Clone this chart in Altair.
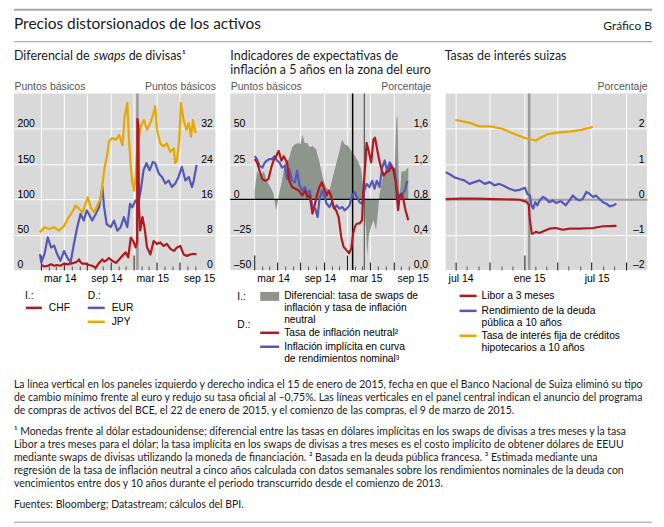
import altair as alt
import pandas as pd

# ================= DATA =================
# Left panel - left axis (basis points): CHF
chf = [
    ("2014-01-02", 7), ("2014-01-14", 5), ("2014-01-27", 6), ("2014-02-09", 8),
    ("2014-02-21", 6), ("2014-03-05", 7), ("2014-03-18", 6), ("2014-04-01", 9),
    ("2014-04-14", 8), ("2014-04-27", 9), ("2014-05-10", 10), ("2014-05-23", 12),
    ("2014-05-30", 15), ("2014-06-05", 11), ("2014-06-12", 9), ("2014-06-25", 9),
    ("2014-07-08", 7), ("2014-07-21", 6), ("2014-08-04", 3), ("2014-08-17", 10),
    ("2014-08-30", 15), ("2014-09-06", 12), ("2014-09-12", 13), ("2014-09-25", 17),
    ("2014-10-08", 13), ("2014-10-22", 10), ("2014-11-04", 15), ("2014-11-17", 20),
    ("2014-11-30", 25), ("2014-12-10", 18), ("2014-12-20", 46), ("2014-12-30", 41),
    ("2015-01-08", 32), ("2015-01-14", 40), ("2015-01-15", 214), ("2015-01-19", 205),
    ("2015-01-21", 90), ("2015-01-26", 56), ("2015-02-04", 75), ("2015-02-12", 60),
    ("2015-02-22", 32), ("2015-03-07", 22), ("2015-03-20", 41), ("2015-04-02", 37),
    ("2015-04-15", 39), ("2015-04-28", 34), ("2015-05-11", 37), ("2015-05-25", 30),
    ("2015-06-07", 27), ("2015-06-20", 32), ("2015-07-03", 34), ("2015-07-16", 22),
    ("2015-07-29", 20), ("2015-08-11", 22), ("2015-08-25", 23), ("2015-09-05", 22),
]
# Left panel - right axis (basis points): EUR, JPY
eur = [
    ("2013-12-27", 3.6), ("2014-01-02", 1.7), ("2014-01-14", 3.6), ("2014-01-27", 7.4),
    ("2014-02-09", 5.1), ("2014-02-21", 5.5), ("2014-03-05", 3.6), ("2014-03-18", 2.1),
    ("2014-04-01", 4.3), ("2014-04-14", 2.8), ("2014-04-27", 1.7), ("2014-05-10", 5.9),
    ("2014-05-23", 9.7), ("2014-06-05", 12.7), ("2014-06-18", 11.2), ("2014-06-29", 13.5),
    ("2014-07-08", 12.7), ("2014-07-21", 11.2), ("2014-08-04", 12.7), ("2014-08-17", 14.2),
    ("2014-08-30", 18.8), ("2014-09-06", 14.2), ("2014-09-16", 10.4), ("2014-10-02", 9.7),
    ("2014-10-15", 11.2), ("2014-10-28", 8.9), ("2014-11-10", 9.7), ("2014-11-23", 12.0),
    ("2014-12-06", 9.7), ("2014-12-17", 15.0), ("2014-12-26", 14.2), ("2015-01-08", 15.8),
    ("2015-01-18", 15.0), ("2015-01-28", 18.0), ("2015-02-08", 22.6), ("2015-02-20", 24.2),
    ("2015-03-04", 22.6), ("2015-03-17", 24.5), ("2015-03-26", 24.2), ("2015-04-09", 21.9),
    ("2015-04-22", 21.1), ("2015-05-05", 19.6), ("2015-05-18", 20.3), ("2015-05-31", 18.8),
    ("2015-06-13", 19.6), ("2015-06-26", 21.1), ("2015-07-09", 23.4), ("2015-07-23", 20.3),
    ("2015-08-05", 21.1), ("2015-08-18", 18.8), ("2015-08-25", 20.3), ("2015-09-05", 23.8),
]
jpy = [
    ("2013-12-27", 8.5), ("2014-01-14", 9.7), ("2014-02-03", 9.3), ("2014-02-21", 9.7),
    ("2014-03-12", 8.9), ("2014-04-01", 10.0), ("2014-04-20", 12.0), ("2014-05-03", 13.1),
    ("2014-05-17", 14.6), ("2014-05-30", 13.9), ("2014-06-12", 13.0), ("2014-06-25", 15.0),
    ("2014-07-04", 16.5), ("2014-07-15", 14.2), ("2014-07-28", 13.1), ("2014-08-10", 14.6),
    ("2014-08-24", 16.2), ("2014-09-06", 22.6), ("2014-09-19", 26.4), ("2014-09-25", 29.1),
    ("2014-10-08", 29.9), ("2014-10-22", 29.5), ("2014-11-04", 30.6), ("2014-11-17", 28.3),
    ("2014-11-26", 34.8), ("2014-12-06", 37.9), ("2014-12-13", 29.5), ("2014-12-20", 23.4),
    ("2014-12-26", 19.6), ("2015-01-02", 18.0), ("2015-01-08", 21.1), ("2015-01-15", 28.0),
    ("2015-01-28", 32.5), ("2015-02-10", 34.0), ("2015-02-22", 31.8), ("2015-03-07", 33.3),
    ("2015-03-20", 35.6), ("2015-03-26", 37.1), ("2015-04-02", 31.8), ("2015-04-15", 28.7),
    ("2015-04-28", 28.0), ("2015-05-11", 28.7), ("2015-05-25", 26.8), ("2015-06-07", 27.6),
    ("2015-06-13", 24.2), ("2015-06-20", 24.9), ("2015-06-29", 29.5), ("2015-07-05", 37.9),
    ("2015-07-16", 34.0), ("2015-07-27", 31.8), ("2015-08-05", 33.3), ("2015-08-14", 30.2),
    ("2015-08-22", 34.0), ("2015-09-01", 31.0),
]
# Middle panel - left axis (basis points): swap-rate minus breakeven
diferencial = [
    ("2014-01-02", 6), ("2014-01-11", 20), ("2014-01-25", 17), ("2014-02-07", 20),
    ("2014-02-19", 13), ("2014-03-04", 9), ("2014-03-17", 4), ("2014-03-27", -8),
    ("2014-04-06", 2), ("2014-04-19", 13), ("2014-05-02", 27), ("2014-05-16", 28.5),
    ("2014-05-29", 36.7), ("2014-06-09", 39), ("2014-06-22", 40), ("2014-07-01", 39),
    ("2014-07-08", 46), ("2014-07-18", 40), ("2014-07-28", 40), ("2014-08-06", 36.7),
    ("2014-08-17", 38), ("2014-08-31", 35.5), ("2014-09-13", 27), ("2014-09-26", 15.7),
    ("2014-10-09", 8.6), ("2014-10-23", 6.3), ("2014-11-05", 15.7), ("2014-11-18", 25),
    ("2014-12-01", 34.3), ("2014-12-12", 42.5), ("2014-12-21", 39), ("2015-01-04", 38),
    ("2015-01-17", 34.3), ("2015-01-31", 30.8), ("2015-02-12", 27), ("2015-02-24", 21.5),
    ("2015-03-02", 13), ("2015-03-09", -5.4), ("2015-03-16", -21.7), ("2015-03-20", -40),
    ("2015-03-26", -26), ("2015-04-05", -19), ("2015-04-14", -14.7), ("2015-04-24", -21.7),
    ("2015-05-01", -10), ("2015-05-08", 4), ("2015-05-21", 15.7), ("2015-06-04", 22.7),
    ("2015-06-17", 27), ("2015-06-27", 25), ("2015-07-06", 20), ("2015-07-13", 57.5),
    ("2015-07-17", 59), ("2015-07-22", 18), ("2015-07-26", 1.6), ("2015-08-02", 20),
    ("2015-08-15", 20), ("2015-08-29", 22.7),
]
# Middle panel - right axis (percent)
neutral = [
    ("2014-01-02", 1.256), ("2014-01-11", 1.22), ("2014-01-21", 1.125), ("2014-02-01", 1.03),
    ("2014-02-13", 1.01), ("2014-02-25", 1.03), ("2014-03-08", 1.16), ("2014-03-17", 1.24),
    ("2014-03-27", 1.29), ("2014-04-06", 1.35), ("2014-04-17", 1.24), ("2014-04-26", 1.29),
    ("2014-05-09", 1.22), ("2014-05-18", 1.01), ("2014-05-29", 0.94), ("2014-06-11", 0.92),
    ("2014-06-24", 0.90), ("2014-07-08", 0.845), ("2014-07-18", 0.90), ("2014-07-28", 0.826),
    ("2014-08-06", 0.845), ("2014-08-17", 0.64), ("2014-08-24", 0.714), ("2014-09-02", 0.826),
    ("2014-09-13", 0.94), ("2014-09-23", 0.994), ("2014-10-02", 0.92), ("2014-10-12", 0.845),
    ("2014-10-20", 0.90), ("2014-10-29", 0.845), ("2014-11-08", 0.714), ("2014-11-18", 0.677),
    ("2014-11-28", 0.60), ("2014-12-08", 0.378), ("2014-12-17", 0.265), ("2014-12-28", 0.228),
    ("2015-01-08", 0.19), ("2015-01-17", 0.247), ("2015-01-24", 0.415), ("2015-01-31", 0.49),
    ("2015-02-08", 0.527), ("2015-02-18", 0.527), ("2015-02-28", 0.564), ("2015-03-05", 0.90),
    ("2015-03-13", 1.20), ("2015-03-18", 1.44), ("2015-03-26", 1.35), ("2015-04-05", 1.22),
    ("2015-04-14", 1.48), ("2015-04-20", 1.50), ("2015-04-27", 1.39), ("2015-05-05", 1.27),
    ("2015-05-14", 1.16), ("2015-05-24", 1.07), ("2015-06-04", 1.107), ("2015-06-14", 1.125),
    ("2015-06-23", 1.18), ("2015-07-02", 1.125), ("2015-07-10", 1.01), ("2015-07-20", 0.677),
    ("2015-07-26", 0.845), ("2015-08-02", 0.864), ("2015-08-09", 0.807), ("2015-08-18", 0.677),
    ("2015-08-29", 0.564),
]
implicita = [
    ("2014-01-02", 1.29), ("2014-01-11", 1.256), ("2014-01-21", 1.18), ("2014-02-01", 1.16),
    ("2014-02-11", 1.22), ("2014-02-19", 1.24), ("2014-02-28", 1.256), ("2014-03-10", 1.256),
    ("2014-03-21", 1.29), ("2014-03-31", 1.24), ("2014-04-09", 1.22), ("2014-04-19", 1.16),
    ("2014-04-30", 1.18), ("2014-05-09", 1.03), ("2014-05-18", 1.145), ("2014-05-29", 1.01),
    ("2014-06-09", 0.994), ("2014-06-18", 1.125), ("2014-06-27", 0.957), ("2014-07-08", 0.90),
    ("2014-07-18", 0.94), ("2014-07-28", 0.864), ("2014-08-06", 0.90), ("2014-08-17", 0.714),
    ("2014-08-28", 0.695), ("2014-09-06", 0.60), ("2014-09-13", 0.79), ("2014-09-23", 0.90),
    ("2014-10-02", 0.845), ("2014-10-12", 0.75), ("2014-10-23", 0.714), ("2014-11-02", 0.77),
    ("2014-11-11", 0.695), ("2014-11-20", 0.733), ("2014-12-01", 0.695), ("2014-12-12", 0.714),
    ("2014-12-21", 0.677), ("2014-12-30", 0.695), ("2015-01-10", 0.733), ("2015-01-20", 0.845),
    ("2015-01-31", 0.88), ("2015-02-08", 0.826), ("2015-02-18", 0.77), ("2015-02-28", 0.75),
    ("2015-03-09", 0.90), ("2015-03-18", 0.976), ("2015-03-29", 0.94), ("2015-04-09", 1.01),
    ("2015-04-18", 0.92), ("2015-04-27", 1.01), ("2015-05-08", 0.94), ("2015-05-18", 1.16),
    ("2015-05-28", 1.24), ("2015-06-06", 1.125), ("2015-06-17", 1.22), ("2015-06-27", 1.16),
    ("2015-07-06", 1.145), ("2015-07-16", 0.90), ("2015-07-26", 0.807), ("2015-08-06", 0.864),
    ("2015-08-15", 0.90), ("2015-08-25", 1.01),
]
# Right panel (percent)
libor = [
    ("2014-06-05", 0.01), ("2014-07-15", 0.02), ("2014-08-26", 0.02), ("2014-10-15", 0.01),
    ("2014-12-20", -0.01), ("2015-01-08", -0.07), ("2015-01-14", -0.15), ("2015-01-16", -0.5),
    ("2015-01-19", -0.75), ("2015-01-22", -0.97), ("2015-01-25", -0.97), ("2015-02-02", -0.92),
    ("2015-02-12", -0.95), ("2015-02-25", -0.89), ("2015-03-10", -0.83), ("2015-03-28", -0.81),
    ("2015-04-15", -0.86), ("2015-05-03", -0.83), ("2015-05-30", -0.83), ("2015-07-05", -0.81),
    ("2015-08-01", -0.76), ("2015-09-06", -0.75),
]
bono10 = [
    ("2014-06-05", 0.77), ("2014-06-15", 0.72), ("2014-06-28", 0.63), ("2014-07-12", 0.58),
    ("2014-07-25", 0.54), ("2014-08-08", 0.44), ("2014-08-21", 0.49), ("2014-09-04", 0.54),
    ("2014-09-18", 0.44), ("2014-10-01", 0.49), ("2014-10-14", 0.40), ("2014-10-27", 0.44),
    ("2014-11-10", 0.37), ("2014-11-23", 0.30), ("2014-12-07", 0.25), ("2014-12-20", 0.27),
    ("2015-01-04", 0.33), ("2015-01-10", 0.16), ("2015-01-17", 0.11), ("2015-01-21", -0.17),
    ("2015-01-26", -0.26), ("2015-01-31", -0.08), ("2015-02-06", -0.17), ("2015-02-12", -0.03),
    ("2015-02-21", 0.07), ("2015-03-01", 0.02), ("2015-03-10", -0.08), ("2015-03-19", -0.03),
    ("2015-03-28", -0.10), ("2015-04-10", -0.05), ("2015-04-23", -0.17), ("2015-05-03", -0.03),
    ("2015-05-12", 0.11), ("2015-05-21", 0.02), ("2015-05-30", -0.03), ("2015-06-08", 0.02),
    ("2015-06-17", 0.21), ("2015-06-26", 0.16), ("2015-07-05", 0.07), ("2015-07-13", 0.11),
    ("2015-07-22", 0.02), ("2015-08-01", -0.08), ("2015-08-10", -0.12), ("2015-08-19", -0.20),
    ("2015-08-28", -0.17), ("2015-09-06", -0.12),
]
hipoteca = [
    ("2014-07-01", 2.25), ("2014-07-21", 2.21), ("2014-08-12", 2.16), ("2014-09-03", 2.07),
    ("2014-10-01", 2.07), ("2014-11-02", 2.01), ("2014-12-03", 1.87), ("2015-01-04", 1.74),
    ("2015-02-02", 1.67), ("2015-02-17", 1.76), ("2015-03-06", 1.85), ("2015-04-05", 1.90),
    ("2015-05-03", 1.92), ("2015-06-04", 1.97), ("2015-07-05", 2.06),
]
# event dates (vertical lines)
snb_date = "2015-01-15"
ecb_announce = "2015-01-22"
ecb_start = "2015-03-09"

# axis tick values / labels
MONTHS_ES = ["ene", "feb", "mar", "abr", "may", "jun", "jul", "ago", "sep", "oct", "nov", "dic"]
xlabels_lm = [(2014, 3, 15), (2014, 9, 15), (2015, 3, 15), (2015, 9, 15)]
xlabels_r = [(2014, 7, 15), (2015, 1, 15), (2015, 7, 15)]
y1_left = [0, 50, 100, 150, 200]
y1_right = [0, 8, 16, 24, 32]
y2_left = [-50, -25, 0, 25, 50]
y2_right = [0.0, 0.4, 0.8, 1.2, 1.6]
y3_right = [-2, -1, 0, 1, 2]

# ================= STYLE =================
H = 177
W1, W2, W3 = 202, 201, 202
BG = "#d9d9d9"
RED = "#b0191e"
BLUE = "#5558b8"
YEL = "#e8a800"
AREA = "#8d958c"
INK = "#1a1a1a"
AX_FONT = "Liberation Sans"
TX_FONT = "Lato"
LW = 2.2


def dt(y, m, d):
    return alt.DateTime(year=y, month=m, date=d)


def months(y0, m0, y1, m1):
    out = []
    y, m = y0, m0
    while (y, m) <= (y1, m1):
        out.append(dt(y, m, 1))
        m += 1
        if m > 12:
            m, y = 1, y + 1
    return out


MONTH_JS = "[" + ",".join("'%s'" % s for s in MONTHS_ES) + "]"
X_LABEL_EXPR = MONTH_JS + "[month(datum.value)] + ' ' + timeFormat(datum.value, '%y')"
NEG_EXPR = "(datum.value < 0 ? '\u2013' : '') + format(abs(datum.value), 'd')"
DEC_EXPR = "replace(format(datum.value, '.1f'), '.', ',')"


def label_axis(vals):
    return alt.Axis(orient="bottom", values=[dt(*v) for v in vals], labelExpr=X_LABEL_EXPR,
                    ticks=False, domain=False, grid=False, title=None,
                    labelFont=AX_FONT, labelFontSize=10.5, labelColor="black",
                    labelBaseline="middle", labelPadding=8.5, labelFlush=False, labelOverlap=False)


TICK_SIZE = {"condition": [{"test": "month(datum.value) == 0", "value": 15},
                           {"test": "month(datum.value) % 3 == 0", "value": 8}], "value": 4}
TICK_COLOR = {"condition": {"test": "month(datum.value) % 3 == 0", "value": "#111111"}, "value": "#555555"}
GRID_OP = {"condition": {"test": "month(datum.value) % 3 == 0", "value": 1}, "value": 0}


def tick_axis(vals):
    return alt.Axis(orient="top", offset=-H, values=vals, labels=False, domain=False, title=None,
                    ticks=True, tickSize=TICK_SIZE, tickColor=TICK_COLOR, tickWidth=1,
                    grid=True, gridColor="white", gridOpacity=GRID_OP, gridWidth=1)


def y_axis(side, values, title, grid=True, expr=None, grid_color="white", grid_width=1):
    left = side == "left"
    kw = dict(orient=side, values=values, title=title, grid=grid, gridColor=grid_color,
              gridWidth=grid_width, ticks=False, tickSize=0, domain=False, offset=-3,
              labelPadding=0, labelAlign="left" if left else "right",
              labelBaseline="alphabetic", labelOffset=-2, labelFont=AX_FONT,
              labelFontSize=10.5, labelColor="black", labelFlush=False,
              labelOverlap=False, labelBound=False, titleAngle=0,
              titleAlign="left" if left else "right", titleBaseline="middle",
              titleX=-3 if left else 3, titleY=-7, titleFont=AX_FONT, titleFontSize=10.5,
              titleColor="#555555", titleFontWeight="normal", titlePadding=0)
    if expr:
        kw["labelExpr"] = expr
    return alt.Axis(**kw)


def frame(rows, name):
    return pd.DataFrame(rows, columns=["fecha", "valor"]).assign(serie=name)


def X(domain, axis):
    return alt.X("fecha:T", scale=alt.Scale(domain=domain), axis=axis)


def px_text(rows, size, font, align="left", style="normal", color=INK):
    df = pd.DataFrame(rows, columns=["px", "py", "t"])
    return alt.Chart(df).mark_text(font=font, fontSize=size, align=align, baseline="middle",
                                   fontStyle=style, color=color).encode(
        x=alt.X("px:Q", scale=None, axis=None), y=alt.Y("py:Q", scale=None, axis=None),
        text=alt.Text("t:N"))


def px_rules(rows, width):
    df = pd.DataFrame(rows, columns=["px", "px2", "py", "c"])
    return alt.Chart(df).mark_rule(strokeWidth=width).encode(
        x=alt.X("px:Q", scale=None, axis=None), x2="px2:Q",
        y=alt.Y("py:Q", scale=None, axis=None), color=alt.Color("c:N", scale=None))


VIEW = alt.ViewBackground(fill=BG, stroke=None)

# ================= PANEL 1 =================
dom1 = [dt(2013, 9, 16), dt(2015, 11, 18)]
p1_rule = alt.Chart(pd.DataFrame({"fecha": [snb_date]})).mark_rule(
    color="#9b9b9b", strokeWidth=2.5).encode(x=X(dom1, label_axis(xlabels_lm)))
p1_right = alt.Chart(pd.concat([frame(eur, "EUR"), frame(jpy, "JPY")])).mark_line(
    strokeWidth=LW, strokeJoin="round").encode(
    x=X(dom1, None),
    y=alt.Y("valor:Q", scale=alt.Scale(domain=[0, 40], nice=False, zero=False),
            axis=y_axis("right", y1_right, "Puntos básicos", grid=False)),
    color=alt.Color("serie:N", scale=alt.Scale(domain=["EUR", "JPY"], range=[BLUE, YEL]), legend=None),
    detail="serie:N")
p1_left = alt.Chart(frame(chf, "CHF")).mark_line(color=RED, strokeWidth=LW, strokeJoin="round").encode(
    x=X(dom1, tick_axis(months(2014, 1, 2015, 9))),
    y=alt.Y("valor:Q", scale=alt.Scale(domain=[0, 250], nice=False, zero=False),
            axis=y_axis("left", y1_left, "Puntos básicos", grid=True)))

# ---- page furniture (positions relative to panel-1 plot origin) ----
header_rules = px_rules([(0, 640, -84, "#a6a6a6")], 2)
header_rule2 = px_rules([(0, 640, -52, "#9a9a9a"), (0, 640, 430, "#9a9a9a")], 1)
title = px_text([(0, -70, "Precios distorsionados de los activos")], 15.5, TX_FONT)
grafico = px_text([(640, -68, "Gráfico B")], 12, TX_FONT, align="right")
ptitles = px_text([(0, -38, "Diferencial de"), (115, -38, "de divisas\u00b9"),
                   (217, -38, "Indicadores de expectativas de"),
                   (217, -24, "inflación a 5 años en la zona del euro"),
                   (432, -38, "Tasas de interés suizas")], 12.5, TX_FONT)
ptitle_it = px_text([(80, -38, "swaps")], 12.5, TX_FONT, style="italic")

legend_txt = px_text([
    (11, 203, "I.:"), (35, 215, "CHF"), (74, 203, "D.:"), (98, 215, "EUR"), (98, 229, "JPY"),
    (224, 204, "I.:"), (271, 203, "Diferencial: tasa de swaps de"),
    (271, 215, "inflación y tasa de inflación"), (271, 227, "neutral"),
    (224, 232, "D.:"), (271, 240, "Tasa de inflación neutral\u00b2"),
    (271, 254, "Inflación implícita en curva"), (271, 266, "de rendimientos nominal\u00b3"),
    (469, 203, "Libor a 3 meses"), (469, 218, "Rendimiento de la deuda"),
    (469, 230, "pública a 10 años"), (469, 243, "Tasa de interés fija de créditos"),
    (469, 255, "hipotecarios a 10 años"),
], 10.3, AX_FONT, color="black")
legend_sw = px_rules([
    (12, 28, 215, RED), (74, 91, 215, BLUE), (74, 91, 229, YEL),
    (247, 266, 240, RED), (247, 266, 254, BLUE),
    (447, 464, 203, RED), (447, 464, 218, BLUE), (447, 464, 243, YEL),
], 2.5)
legend_rect = alt.Chart(pd.DataFrame({"px": [247], "px2": [266], "py": [199], "py2": [208]})).mark_rect(
    color=AREA).encode(x=alt.X("px:Q", scale=None, axis=None), x2="px2:Q",
                       y=alt.Y("py:Q", scale=None, axis=None), y2="py2:Q")

notes = px_text([
    (0, 292, "La línea vertical en los paneles izquierdo y derecho indica el 15 de enero de 2015, fecha en que el Banco Nacional de Suiza eliminó su tipo"),
    (0, 305, "de cambio mínimo frente al euro y redujo su tasa oficial al \u20130,75%. Las líneas verticales en el panel central indican el anuncio del programa"),
    (0, 318, "de compras de activos del BCE, el 22 de enero de 2015, y el comienzo de las compras, el 9 de marzo de 2015."),
    (0, 340, "\u00b9  Monedas frente al dólar estadounidense; diferencial entre las tasas en dólares implícitas en los swaps de divisas a tres meses y la tasa"),
    (0, 353, "Libor a tres meses para el dólar; la tasa implícita en los swaps de divisas a tres meses es el costo implícito de obtener dólares de EEUU"),
    (0, 366, "mediante swaps de divisas utilizando la moneda de financiación.   \u00b2 Basada en la deuda pública francesa.   \u00b3 Estimada mediante una"),
    (0, 379, "regresión de la tasa de inflación neutral a cinco años calculada con datos semanales sobre los rendimientos nominales de la deuda con"),
    (0, 392, "vencimientos entre dos y 10 años durante el periodo transcurrido desde el comienzo de 2013."),
    (0, 413, "Fuentes: Bloomberg; Datastream; cálculos del BPI."),
], 10.5, TX_FONT)

p1 = alt.layer(p1_rule, p1_right, p1_left, header_rules, header_rule2, title, grafico,
               ptitles, ptitle_it, legend_rect, legend_sw, legend_txt, notes).resolve_scale(
    y="independent").resolve_axis(x="independent").properties(width=W1, height=H, view=VIEW)

# ================= PANEL 2 =================
dom2 = [dt(2013, 9, 28), dt(2015, 11, 25)]
p2_area = alt.Chart(frame(diferencial, "dif")).mark_area(color=AREA).encode(
    x=X(dom2, tick_axis(months(2014, 1, 2015, 9))),
    y=alt.Y("valor:Q", scale=alt.Scale(domain=[-50, 75], nice=False, zero=False),
            axis=y_axis("left", y2_left, "Puntos básicos", grid=True, expr=NEG_EXPR)),
    y2=alt.datum(0))
p2_gray = alt.Chart(pd.DataFrame({"fecha": [ecb_start]})).mark_rule(
    color="#5a5a5a", strokeWidth=1.2).encode(x=X(dom2, None))
p2_black = alt.Chart(pd.DataFrame({"fecha": [ecb_announce]})).mark_rule(
    color="black", strokeWidth=1.5).encode(x=X(dom2, label_axis(xlabels_lm)))
p2_zero = alt.Chart(pd.DataFrame({"v": [0]})).mark_rule(color="black", strokeWidth=1.2).encode(
    y=alt.Y("v:Q", scale=alt.Scale(domain=[-50, 75], nice=False, zero=False), axis=None))
p2_lines = alt.Chart(pd.concat([frame(implicita, "implicita"), frame(neutral, "neutral")])).mark_line(
    strokeWidth=LW, strokeJoin="round").encode(
    x=X(dom2, None),
    y=alt.Y("valor:Q", scale=alt.Scale(domain=[0, 2.0], nice=False, zero=False),
            axis=y_axis("right", y2_right, "Porcentaje", grid=False, expr=DEC_EXPR)),
    color=alt.Color("serie:N", scale=alt.Scale(domain=["implicita", "neutral"], range=[BLUE, RED]), legend=None),
    detail="serie:N")
p2 = alt.layer(p2_area, p2_gray, p2_black, p2_zero, p2_lines).resolve_scale(
    y="independent").resolve_axis(x="independent").properties(width=W2, height=H, view=VIEW)

# ================= PANEL 3 =================
dom3 = [dt(2014, 6, 5), dt(2015, 11, 27)]
ZERO_COLOR = {"condition": {"test": "datum.value == 0", "value": "#a0a0a0"}, "value": "white"}
ZERO_WIDTH = {"condition": {"test": "datum.value == 0", "value": 2}, "value": 1}
p3_rule = alt.Chart(pd.DataFrame({"fecha": [snb_date]})).mark_rule(
    color="#9b9b9b", strokeWidth=2.5).encode(x=X(dom3, label_axis(xlabels_r)))
p3_lines = alt.Chart(pd.concat([frame(hipoteca, "hip"), frame(bono10, "bono"), frame(libor, "libor")])).mark_line(
    strokeWidth=LW, strokeJoin="round").encode(
    x=X(dom3, tick_axis(months(2014, 7, 2015, 10))),
    y=alt.Y("valor:Q", scale=alt.Scale(domain=[-2, 3], nice=False, zero=False),
            axis=y_axis("right", y3_right, "Porcentaje", grid=True, expr=NEG_EXPR,
                        grid_color=ZERO_COLOR, grid_width=ZERO_WIDTH)),
    color=alt.Color("serie:N", scale=alt.Scale(domain=["hip", "bono", "libor"], range=[YEL, BLUE, RED]), legend=None),
    detail="serie:N")
p3 = alt.layer(p3_rule, p3_lines).resolve_axis(x="independent").properties(width=W3, height=H, view=VIEW)

chart = alt.hconcat(p1, p2, p3, spacing=15, bounds="flush").resolve_scale(
    color="independent").properties(
    padding={"left": 5, "top": 0, "right": 3, "bottom": 0}).configure_view(stroke=None)

chart.save("out.html", embed_options={"renderer": "svg", "actions": False})
